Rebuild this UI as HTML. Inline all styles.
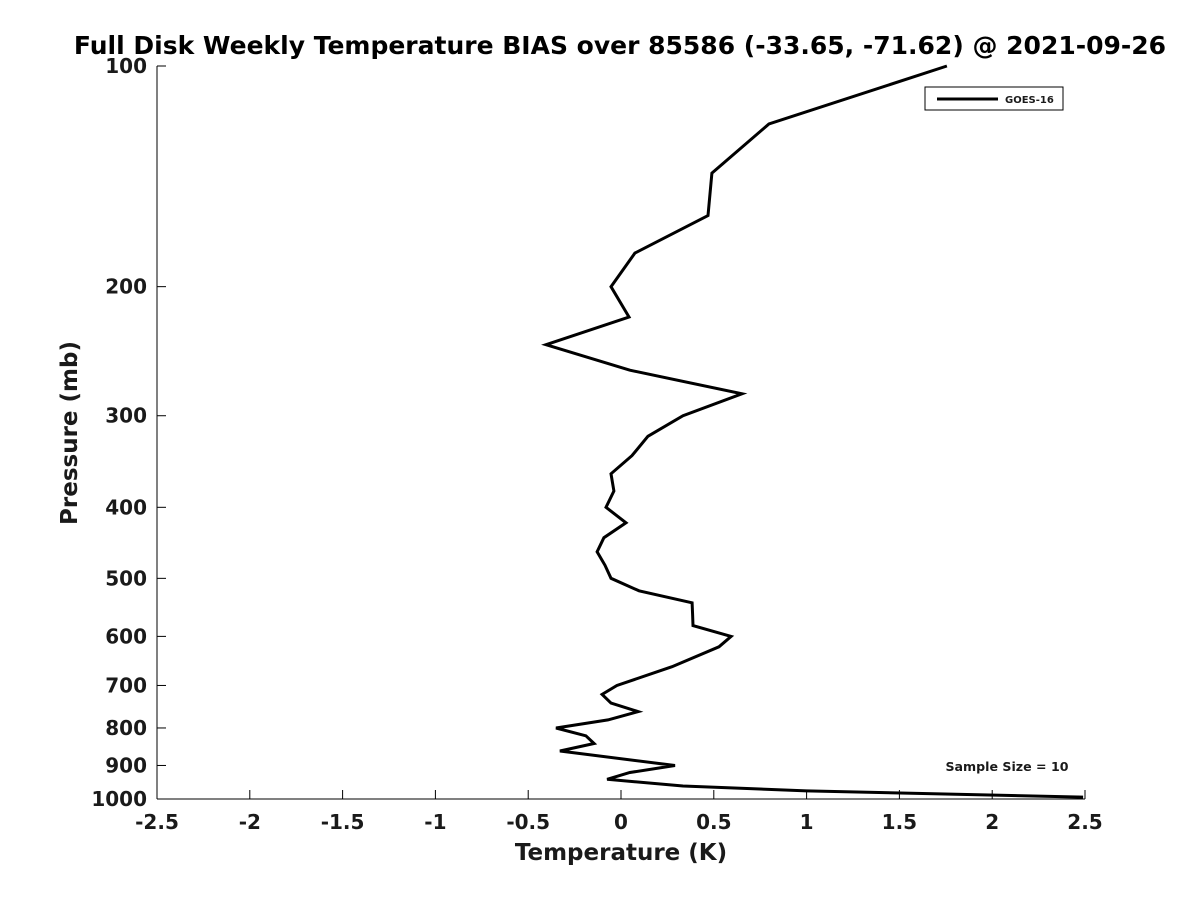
<!DOCTYPE html>
<html><head><meta charset="utf-8"><style>
body{margin:0;background:#fff;}
svg text{font-family:"DejaVu Sans","Liberation Sans",sans-serif;font-weight:bold;fill:#1a1a1a;}
</style></head><body>
<svg id="chart" width="1200" height="900" xmlns="http://www.w3.org/2000/svg">
<rect width="1200" height="900" fill="#fff"/>
<text x="620" y="54" font-size="25" fill="#000" style="fill:#000" text-anchor="middle">Full Disk Weekly Temperature BIAS over 85586 (-33.65, -71.62) @ 2021-09-26</text>
<g id="axes"></g>
<text x="621" y="860" font-size="23" text-anchor="middle">Temperature (K)</text>
<text transform="translate(77,433) rotate(-90)" font-size="23" text-anchor="middle">Pressure (mb)</text>
<g>
<rect x="925" y="87" width="138" height="23" fill="#fff" stroke="#000" stroke-width="1"/>
<line x1="937" y1="99" x2="998" y2="99" stroke="#000" stroke-width="3"/>
<text x="1005" y="103" font-size="10">GOES-16</text>
</g>
<text x="1007" y="771" font-size="12.6" text-anchor="middle">Sample Size = 10</text>
</svg>
<script>
const pressures=[100,120,140,160,180,200,220,240,260,280,300,320,340,360,380,400,420,440,460,480,500,520,540,560,580,600,620,660,700,720,740,760,780,800,820,840,860,900,920,940,960,975,994];
const biasGoes16=[1.756,0.797,0.49,0.469,0.075,-0.054,0.043,-0.404,0.048,0.652,0.334,0.145,0.059,-0.054,-0.038,-0.081,0.027,-0.092,-0.129,-0.086,-0.054,0.097,0.383,0.386,0.388,0.593,0.528,0.275,-0.022,-0.102,-0.054,0.092,-0.07,-0.35,-0.189,-0.145,-0.329,0.291,0.048,-0.075,0.334,1.0,2.49];
const xTicks=[-2.5,-2,-1.5,-1,-0.5,0,0.5,1,1.5,2,2.5];
const yTicks=[100,200,300,400,500,600,700,800,900,1000];
const X0=157,X1=1085,Y0=66,Y1=799;
function xs(v){return X0+(v+2.5)/5*(X1-X0);}
function ys(p){return Y0+(Math.log10(p)-2)*(Y1-Y0);}
const NS="http://www.w3.org/2000/svg";
const g=document.getElementById('axes');
function mk(t,a){const e=document.createElementNS(NS,t);for(const k in a)e.setAttribute(k,a[k]);g.appendChild(e);return e;}
let ax=mk('line',{x1:X0,y1:Y1,x2:X1,y2:Y1,stroke:'#000','stroke-width':1});


let ay=mk('line',{x1:X0,y1:Y0,x2:X0,y2:Y1,stroke:'#000','stroke-width':1});


xTicks.forEach(v=>{
 const t=mk('line',{x1:xs(v),y1:Y1,x2:xs(v),y2:Y1-9,stroke:'#000','stroke-width':1});
 
 
 const l=mk('text',{x:xs(v),y:Y1+30,'font-size':20,'text-anchor':'middle'});
 l.textContent=String(v);
 
 
});
yTicks.forEach(p=>{
 const t=mk('line',{x1:X0,y1:ys(p),x2:X0+9,y2:ys(p),stroke:'#000','stroke-width':1});
 
 
 const l=mk('text',{x:X0-10,y:ys(p)+7,'font-size':20,'text-anchor':'end'});
 l.textContent=String(p);
 
 
});
const pts=pressures.map((p,i)=>xs(biasGoes16[i]).toFixed(1)+','+ys(p).toFixed(1)).join(' ');
const line=mk('polyline',{points:pts,fill:'none',stroke:'#000','stroke-width':3,'stroke-linejoin':'miter'});


</script>
</body></html>
